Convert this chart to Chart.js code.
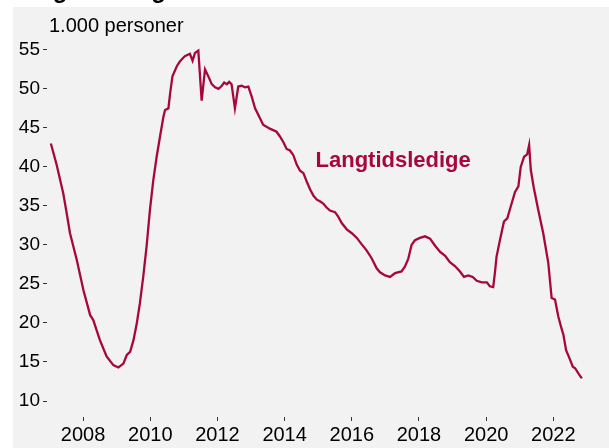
<!DOCTYPE html>
<html lang="no">
<head>
    <meta charset="UTF-8">
    <title>Langtidsledige</title>
    <script src="https://cdn.jsdelivr.net/npm/chart.js"></script>
    <style>
        html, body {
            margin: 0;
            padding: 0;
            background: #ffffff;
        }
        #wrap {
            width: 609px;
            height: 448px;
        }
    </style>
</head>
<body>
    <div id="wrap">
        <canvas id="ledigeChart" width="609" height="448"></canvas>
    </div>
    <script>
        // Langtidsledige, 1.000 personer (month as year fraction)
        const dates = [
            2007.04, 2007.21, 2007.41, 2007.51, 2007.61, 2007.81, 2008.01, 2008.21, 2008.30, 2008.50,
            2008.70, 2008.90, 2009.05, 2009.20, 2009.30, 2009.40, 2009.50, 2009.60, 2009.69, 2009.79,
            2009.89, 2009.99, 2010.09, 2010.19, 2010.29, 2010.39, 2010.44, 2010.54, 2010.59, 2010.66,
            2010.79, 2010.88, 2011.03, 2011.18, 2011.26, 2011.33, 2011.43, 2011.53, 2011.63, 2011.73,
            2011.83, 2011.93, 2012.03, 2012.13, 2012.20, 2012.28, 2012.35, 2012.42, 2012.52, 2012.62,
            2012.72, 2012.82, 2012.92, 2013.02, 2013.12, 2013.27, 2013.36, 2013.56, 2013.76, 2013.86,
            2013.96, 2014.06, 2014.16, 2014.26, 2014.36, 2014.46, 2014.56, 2014.66, 2014.76, 2014.86,
            2014.96, 2015.05, 2015.15, 2015.25, 2015.35, 2015.50, 2015.60, 2015.70, 2015.85, 2016.00,
            2016.15, 2016.29, 2016.44, 2016.59, 2016.74, 2016.84, 2016.99, 2017.14, 2017.29, 2017.48,
            2017.58, 2017.68, 2017.78, 2017.88, 2018.03, 2018.18, 2018.33, 2018.48, 2018.63, 2018.78,
            2018.92, 2019.07, 2019.22, 2019.34, 2019.47, 2019.60, 2019.72, 2019.87, 2020.02, 2020.11,
            2020.21, 2020.26, 2020.31, 2020.41, 2020.53, 2020.63, 2020.73, 2020.86, 2020.96, 2021.03,
            2021.13, 2021.22, 2021.28, 2021.33, 2021.42, 2021.55, 2021.70, 2021.85, 2021.95, 2022.05,
            2022.15, 2022.25, 2022.30, 2022.38, 2022.48, 2022.58, 2022.65, 2022.75, 2022.85
        ];
        const langtidsledige = [
            43.0, 40.3, 36.6, 34.1, 31.5, 28.1, 24.2, 21.0, 20.4, 17.8,
            15.7, 14.6, 14.3, 14.8, 15.9, 16.3, 17.8, 20.0, 22.5, 25.9,
            29.8, 34.5, 38.3, 41.3, 43.9, 46.4, 47.3, 47.5, 49.4, 51.6,
            52.9, 53.5, 54.2, 54.5, 53.6, 54.6, 54.9, 48.5, 52.5, 51.6,
            50.6, 50.2, 50.0, 50.4, 50.8, 50.6, 50.9, 50.6, 47.5, 50.3,
            50.4, 50.2, 50.3, 49.0, 47.5, 46.2, 45.4, 44.9, 44.5, 43.9,
            43.2, 42.3, 42.1, 41.5, 40.3, 39.5, 39.2, 38.1, 37.1, 36.3,
            35.8, 35.6, 35.3, 34.8, 34.4, 34.2, 33.6, 32.8, 32.0, 31.5,
            30.9, 30.1, 29.3, 28.3, 27.0, 26.5, 26.1, 25.9, 26.4, 26.6,
            27.2, 28.2, 30.0, 30.6, 30.9, 31.1, 30.8, 29.9, 29.1, 28.6,
            27.8, 27.3, 26.6, 25.9, 26.1, 25.9, 25.4, 25.2, 25.2, 24.7,
            24.6, 26.4, 28.5, 30.6, 33.0, 33.4, 34.9, 36.8, 37.5, 40.0,
            41.3, 41.6, 42.8, 39.6, 37.3, 34.5, 31.5, 27.7, 23.2, 23.0,
            20.8, 19.2, 18.5, 16.5, 15.5, 14.4, 14.2, 13.5, 12.9
        ];
        const xTicks = [2008, 2010, 2012, 2014, 2016, 2018, 2020, 2022];
        const yTicks = [10, 15, 20, 25, 30, 35, 40, 45, 50, 55];

        const lineColor = '#a6073c';
        const fontFamily = '"Liberation Sans", Arial, sans-serif';

        const points = dates.map((d, i) => ({ x: d, y: langtidsledige[i] }));

        // gray panel, cut-off title, unit text and series label
        const decorPlugin = {
            id: 'decor',
            beforeDraw(chart) {
                const ctx = chart.ctx;
                ctx.save();
                ctx.fillStyle = '#ffffff';
                ctx.fillRect(0, 0, chart.width, chart.height);
                ctx.fillStyle = '#f2f2f2';
                ctx.fillRect(13, 7, chart.width - 13, chart.height - 7);
                ctx.restore();
            },
            afterDraw(chart) {
                const ctx = chart.ctx;
                const xs = chart.scales.x;
                const ys = chart.scales.y;
                ctx.save();
                ctx.fillStyle = '#000000';
                ctx.textAlign = 'left';
                ctx.textBaseline = 'alphabetic';
                ctx.font = 'bold 24px ' + fontFamily;
                ctx.fillText('Langtidsledige', 10, -2);
                ctx.font = '20px ' + fontFamily;
                ctx.fillText('1.000 personer', 49, 32);
                ctx.fillStyle = lineColor;
                ctx.font = 'bold 22px ' + fontFamily;
                ctx.fillText('Langtidsledige', xs.getPixelForValue(2014.92), ys.getPixelForValue(40.0));
                ctx.restore();
            }
        };

        new Chart(document.getElementById('ledigeChart'), {
            type: 'line',
            data: {
                datasets: [{
                    label: 'Langtidsledige',
                    data: points,
                    borderColor: lineColor,
                    borderWidth: 2.3,
                    pointRadius: 0,
                    tension: 0,
                    fill: false
                }]
            },
            options: {
                responsive: false,
                animation: false,
                layout: {
                    padding: { top: 44, right: 9, left: 0, bottom: 0 }
                },
                plugins: {
                    legend: { display: false },
                    tooltip: { enabled: false }
                },
                scales: {
                    x: {
                        type: 'linear',
                        min: 2006.925,
                        max: 2023.39,
                        afterBuildTicks: (scale) => {
                            scale.ticks = xTicks.map(v => ({ value: v }));
                        },
                        afterFit: (scale) => {
                            scale.height = 31;
                        },
                        border: { display: false },
                        grid: {
                            drawOnChartArea: false,
                            drawTicks: true,
                            tickLength: 4,
                            color: '#333333'
                        },
                        ticks: {
                            padding: 2,
                            color: '#000000',
                            maxRotation: 0,
                            autoSkip: false,
                            font: { family: fontFamily, size: 20 },
                            callback: (v) => String(v)
                        }
                    },
                    y: {
                        min: 7.95,
                        max: 55.75,
                        afterBuildTicks: (scale) => {
                            scale.ticks = yTicks.map(v => ({ value: v }));
                        },
                        afterFit: (scale) => {
                            scale.width = 47;
                        },
                        border: { display: false },
                        grid: {
                            drawOnChartArea: false,
                            drawTicks: true,
                            tickLength: 4,
                            color: '#333333'
                        },
                        ticks: {
                            padding: 3,
                            color: '#000000',
                            autoSkip: false,
                            font: { family: fontFamily, size: 19 },
                            callback: (v) => String(v)
                        }
                    }
                }
            },
            plugins: [decorPlugin]
        });
    </script>
</body>
</html>
